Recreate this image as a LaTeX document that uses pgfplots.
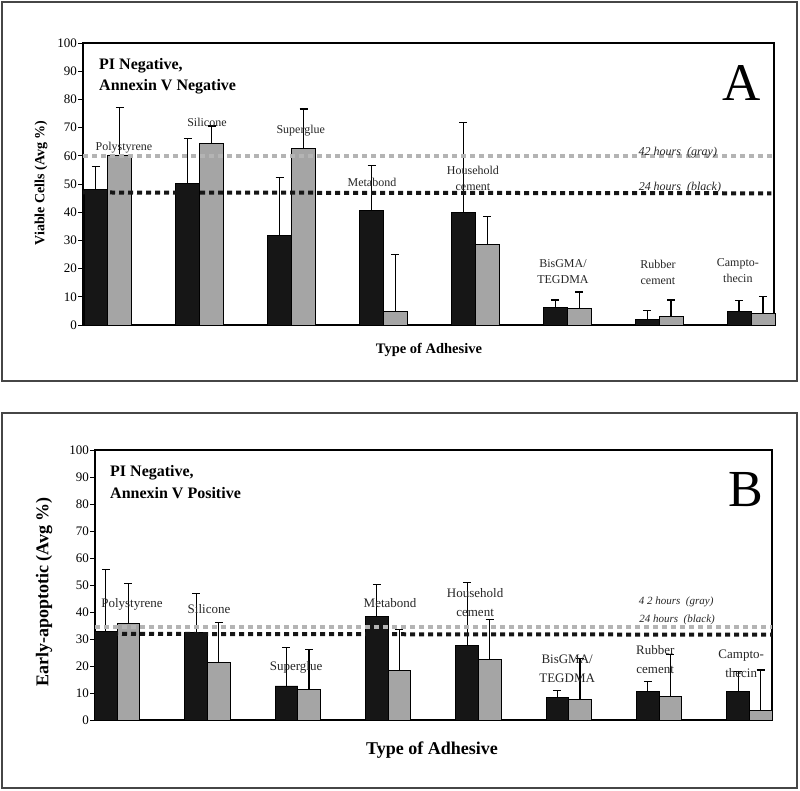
\documentclass[border=0pt]{standalone}
\usepackage{pgfplots}
\pgfplotsset{compat=1.18}
\usepackage{pgfplotstable}
\usepackage{fontspec}
\setmainfont{Liberation Serif}
\definecolor{barblack}{RGB}{22,22,22}
\definecolor{bargray}{RGB}{165,165,165}
\definecolor{linegray}{RGB}{180,180,180}
\definecolor{framegray}{RGB}{70,70,70}

\pgfplotstableread{
x y e
0 48.1 8.0
1 50.1 15.9
2 31.8 20.6
3 40.7 15.9
4 40.0 31.7
5 6.3 2.6
6 2.1 3.0
7 4.9 3.8
}\dataAblack
\pgfplotstableread{
x y e
0 60.3 16.7
1 64.4 6.2
2 62.5 14.1
3 4.9 20.0
4 28.6 9.8
5 5.9 5.8
6 2.9 6.0
7 4.1 6.1
}\dataAgray
\pgfplotstableread{
x y e
0 32.7 23.1
1 32.5 14.4
2 12.6 14.3
3 38.4 11.9
4 27.7 23.2
5 8.4 2.6
6 10.6 3.6
7 10.5 7.5
}\dataBblack
\pgfplotstableread{
x y e
0 35.6 14.9
1 21.4 14.8
2 11.2 15.0
3 18.5 15.1
4 22.3 15.0
5 7.7 15.1
6 8.8 15.5
7 3.6 14.9
}\dataBgray

\pgfplotsset{
  panel/.style={scale only axis, ymin=0, ymax=100, ytick={0,10,...,100},
    xtick=\empty, ytick pos=left, tick align=outside, major tick length=5pt,
    tick style={black, line width=0.8pt},
    axis line style={black, line width=1.2pt},
    clip=false,
    yticklabel style={font=\fontsize{13}{13}\selectfont, inner sep=1pt},
    /pgf/number format/assume math mode=true},
  bars/.style n args={2}{ybar, bar width=#1, bar shift=0pt, fill=#2, draw=black, line width=0.8pt,
    error bars/.cd, y dir=plus, y explicit, error mark=-,
    error bar style={line width=1.2pt, black},
    error mark options={rotate=90, line width=1.2pt, black, mark size=4pt}},
  refline/.style={line width=4pt, dash pattern=on 5pt off 4pt, line cap=butt, #1},
}

\begin{document}
\begin{tikzpicture}[x=1pt,y=1pt]
\useasboundingbox (0pt,0pt) rectangle (800pt,-790pt);

% ---------------- Panel A ----------------
\begin{axis}[panel, at={(83pt,-325pt)}, anchor=south west, width=691pt, height=282pt,
  xmin=-0.27, xmax=7.25]
\addplot[bars={0.26}{barblack}] table[x expr=\thisrow{x}-0.13, y=y, y error plus=e] {\dataAblack};
\addplot[bars={0.26}{bargray}] table[x expr=\thisrow{x}+0.13, y=y, y error plus=e] {\dataAgray};
\addplot[refline=linegray] coordinates {(-0.27,60) (7.25,60)};
\addplot[refline=barblack] coordinates {(-0.27,47) (7.22,46.7)};
\begin{scope}[every node/.style={font=\fontsize{12}{16}\selectfont, align=center, inner sep=0pt, text=black!85}]
\node at (axis cs:0.176,62.8) {Polystyrene};
\node at (axis cs:1.079,71.7) {Silicone};
\node at (axis cs:2.10,68.9) {Superglue};
\node at (axis cs:2.875,50.5) {Metabond};
\node at (axis cs:3.974,51.85) {Household\\cement};
\node at (axis cs:4.953,18.9) {BisGMA/\\TEGDMA};
\node at (axis cs:5.987,18.5) {Rubber\\cement};
\node at (axis cs:6.857,19.35) {Campto-\\thecin};
\node[font=\fontsize{12}{14}\selectfont\itshape] at (axis cs:6.204,61.3) {42 hours~~(gray)};
\node[font=\fontsize{12}{14}\selectfont\itshape] at (axis cs:6.226,48.8) {24 hours~~(black)};
\end{scope}
\end{axis}

% ---------------- Panel B ----------------
\begin{axis}[panel, at={(95pt,-720pt)}, anchor=south west, width=677pt, height=270pt,
  xmin=-0.245, xmax=7.25]
\addplot[bars={0.25}{barblack}] table[x expr=\thisrow{x}-0.125, y=y, y error plus=e] {\dataBblack};
\addplot[bars={0.25}{bargray}] table[x expr=\thisrow{x}+0.125, y=y, y error plus=e] {\dataBgray};
\addplot[refline=linegray] coordinates {(-0.245,34.6) (7.25,34.6)};
\addplot[refline=barblack] coordinates {(-0.245,31.9) (7.25,31.6)};
\begin{scope}[every node/.style={font=\fontsize{13}{19}\selectfont, align=center, inner sep=0pt, text=black!85}]
\node at (axis cs:0.165,42.8) {Polystyrene};
\node at (axis cs:1.017,41) {Silicone};
\node at (axis cs:1.981,19.5) {Superglue};
\node at (axis cs:3.022,43.2) {Metabond};
\node at (axis cs:3.963,43.4) {Household\\cement};
\node at (axis cs:4.982,19.15) {BisGMA/\\TEGDMA};
\node at (axis cs:5.957,22.4) {Rubber\\cement};
\node at (axis cs:6.909,20.7) {Campto-\\thecin};
\node[font=\fontsize{11}{13}\selectfont\itshape] at (axis cs:6.189,43.6) {4 2 hours~~(gray)};
\node[font=\fontsize{11}{13}\selectfont\itshape] at (axis cs:6.2,37) {24 hours~~(black)};
\end{scope}
\end{axis}

% ---------------- frames and texts ----------------
\draw[framegray, line width=1.3pt] (2pt,-2pt) rectangle (797pt,-381pt);
\draw[framegray, line width=1.3pt] (2pt,-413pt) rectangle (797pt,-788pt);

\node[anchor=west, inner sep=0pt, font=\fontsize{16}{16}\selectfont\bfseries] at (99pt,-66pt) {PI Negative,};
\node[anchor=west, inner sep=0pt, font=\fontsize{16}{16}\selectfont\bfseries] at (99pt,-87pt) {Annexin V Negative};
\node[anchor=base, inner sep=0pt, font=\fontsize{53}{53}\selectfont] at (742pt,-100pt) {A};
\node[rotate=90, inner sep=0pt, font=\fontsize{14}{14}\selectfont\bfseries] at (41pt,-183pt) {Viable Cells (Avg \%)};
\node[inner sep=0pt, font=\fontsize{14.5}{14.5}\selectfont\bfseries] at (429pt,-350pt) {Type of Adhesive};

\node[anchor=west, inner sep=0pt, font=\fontsize{16}{16}\selectfont\bfseries] at (110pt,-473pt) {PI Negative,};
\node[anchor=west, inner sep=0pt, font=\fontsize{16}{16}\selectfont\bfseries] at (110pt,-493pt) {Annexin V Positive};
\node[anchor=base, inner sep=0pt, font=\fontsize{52}{52}\selectfont] at (746pt,-506pt) {B};
\node[rotate=90, inner sep=0pt, font=\fontsize{18}{18}\selectfont\bfseries] at (44pt,-592pt) {Early-apoptotic (Avg \%)};
\node[inner sep=0pt, font=\fontsize{18}{18}\selectfont\bfseries] at (432pt,-750pt) {Type of Adhesive};
\end{tikzpicture}
\end{document}
